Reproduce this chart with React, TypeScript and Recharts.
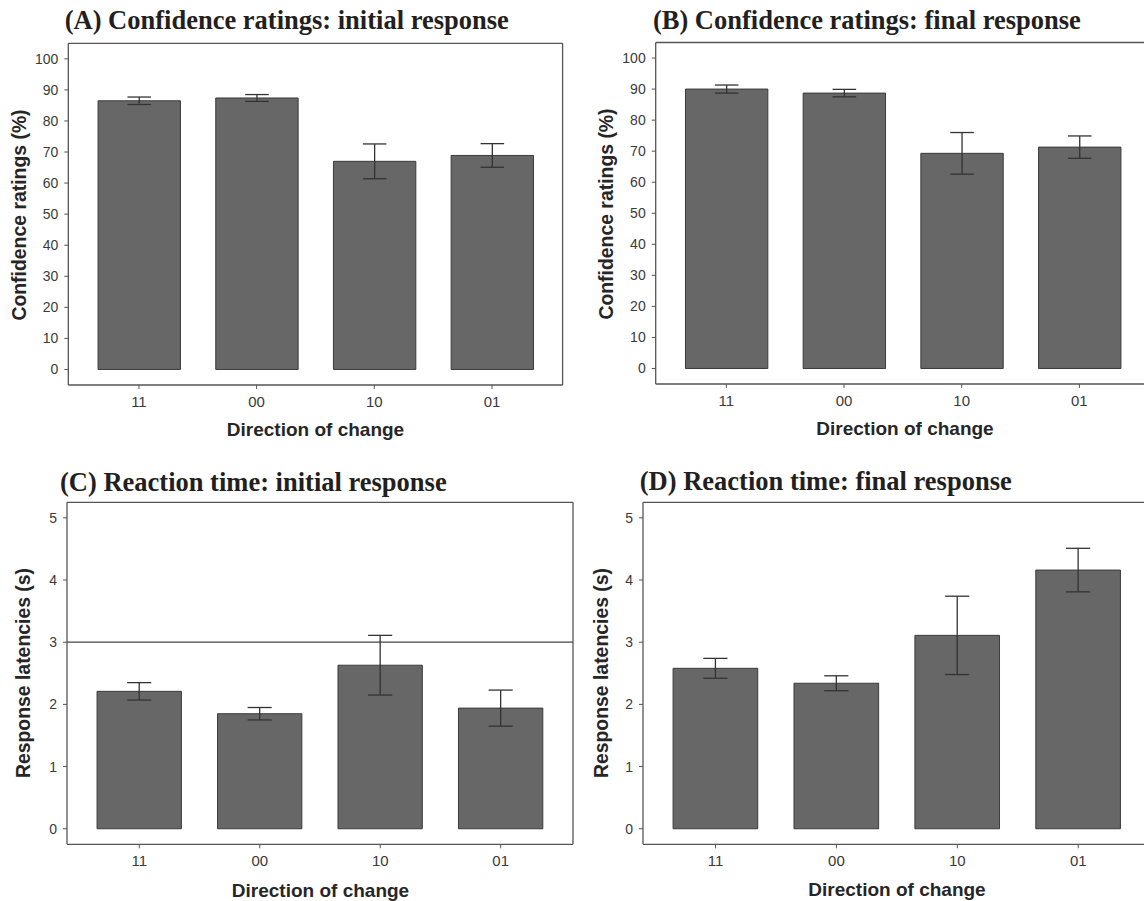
import React from 'react';
import { BarChart, Bar, XAxis, YAxis, ErrorBar, ReferenceLine } from 'recharts';

// Response categories (direction of change)
const directions = ['11', '00', '10', '01'];

// Confidence ratings (%) — mean and standard error
const confInitialMean = [86.5, 87.4, 67.0, 68.9];
const confInitialSe = [1.2, 1.1, 5.6, 3.8];
const confFinalMean = [90.0, 88.7, 69.3, 71.3];
const confFinalSe = [1.3, 1.2, 6.7, 3.6];

// Response latencies (s) — mean and standard error
const rtInitialMean = [2.21, 1.85, 2.63, 1.94];
const rtInitialSe = [0.14, 0.1, 0.48, 0.29];
const rtFinalMean = [2.58, 2.34, 3.11, 4.16];
const rtFinalSe = [0.16, 0.12, 0.63, 0.35];

const confTicks = [0, 10, 20, 30, 40, 50, 60, 70, 80, 90, 100];
const rtTicks = [0, 1, 2, 3, 4, 5];
const rtCutoff = 3;

const SANS = '"Liberation Sans", Arial, Helvetica, sans-serif';
const SERIF = '"Liberation Serif", "Times New Roman", Times, serif';
const FRAME = '#555555';

type Frame = { x0: number; x1: number; y0: number; y1: number };

type PanelProps = {
  left: number;
  top: number;
  frame: Frame;
  means: number[];
  ses: number[];
  domain: [number, number];
  ticks: number[];
  refY?: number;
};

function Panel({ left, top, frame, means, ses, domain, ticks, refY }: PanelProps) {
  const data = directions.map((dir, i) => ({ dir, mean: means[i], se: ses[i] }));
  const yAxisW = frame.x0 - left;
  const xAxisH = 30;
  const width = frame.x1 - left + 3;
  const height = frame.y1 - top + xAxisH;
  const plotW = frame.x1 - frame.x0;
  const step = plotW / 4.2; // categories sit 1 unit apart with 0.6 unit expansion each side
  const pad = step * 0.1;

  return (
    <div style={{ position: 'absolute', left, top, width, height }}>
      <BarChart
        width={width}
        height={height}
        data={data}
        margin={{ top: frame.y0 - top - 1, right: 2, bottom: 0, left: 0 }}
      >
        <XAxis
          dataKey="dir"
          type="category"
          interval={0}
          height={xAxisH}
          padding={{ left: pad, right: pad }}
          tickSize={4}
          tickMargin={7}
          axisLine={{ stroke: FRAME, strokeWidth: 1.3 }}
          tickLine={{ stroke: FRAME, strokeWidth: 1 }}
          tick={{ fill: '#3a3a3a', fontSize: 15, fontFamily: SANS }}
        />
        {/* top edge of the panel border */}
        <XAxis
          xAxisId="top"
          dataKey="dir"
          orientation="top"
          height={1}
          tick={false}
          tickLine={false}
          padding={{ left: pad, right: pad }}
          axisLine={{ stroke: FRAME, strokeWidth: 1.3 }}
        />
        <YAxis
          type="number"
          domain={domain}
          ticks={ticks}
          allowDataOverflow
          interval={0}
          width={yAxisW}
          tickSize={4}
          tickMargin={6}
          axisLine={{ stroke: FRAME, strokeWidth: 1.3 }}
          tickLine={{ stroke: FRAME, strokeWidth: 1 }}
          tick={{ fill: '#3a3a3a', fontSize: 14, fontFamily: SANS }}
        />
        {/* right edge of the panel border */}
        <YAxis
          yAxisId="right"
          orientation="right"
          type="number"
          domain={domain}
          ticks={ticks}
          allowDataOverflow
          width={1}
          tick={false}
          tickLine={false}
          axisLine={{ stroke: FRAME, strokeWidth: 1.3 }}
        />
        {refY !== undefined && (
          <ReferenceLine y={refY} stroke="#444444" strokeWidth={1.3} />
        )}
        <Bar
          dataKey="mean"
          barSize={step * 0.7}
          fill="#676767"
          stroke="#3a3a3a"
          strokeWidth={1}
          isAnimationActive={false}
        >
          <ErrorBar
            dataKey="se"
            width={step * 0.1}
            stroke="#333333"
            strokeWidth={1.3}
            isAnimationActive={false}
          />
        </Bar>
      </BarChart>
    </div>
  );
}

type Caption = { text: string; x: number; y: number };

const panelTitles: Caption[] = [
  { text: '(A) Confidence ratings: initial response', x: 64.7, y: 29 },
  { text: '(B) Confidence ratings: final response', x: 652.9, y: 28.5 },
  { text: '(C) Reaction time: initial response', x: 60, y: 490.5 },
  { text: '(D) Reaction time: final response', x: 639.8, y: 490 },
];

const xTitles: Caption[] = [
  { text: 'Direction of change', x: 315.5, y: 436 },
  { text: 'Direction of change', x: 905, y: 434.5 },
  { text: 'Direction of change', x: 320.5, y: 896.5 },
  { text: 'Direction of change', x: 897, y: 896 },
];

const yTitles: Caption[] = [
  { text: 'Confidence ratings (%)', x: 25.5, y: 215 },
  { text: 'Confidence ratings (%)', x: 612.5, y: 214 },
  { text: 'Response latencies (s)', x: 30, y: 673 },
  { text: 'Response latencies (s)', x: 608, y: 673 },
];

export default function App() {
  return (
    <div
      style={{
        position: 'absolute',
        left: 0,
        top: 0,
        width: 1144,
        height: 901,
        overflow: 'hidden',
        background: '#ffffff',
      }}
    >
      <Panel
        left={0}
        top={30}
        frame={{ x0: 68.3, x1: 562.6, y0: 43.3, y1: 385 }}
        means={confInitialMean}
        ses={confInitialSe}
        domain={[-5, 105]}
        ticks={confTicks}
      />
      <Panel
        left={575}
        top={30}
        frame={{ x0: 655.7, x1: 1150, y0: 42.5, y1: 384 }}
        means={confFinalMean}
        ses={confFinalSe}
        domain={[-5, 105]}
        ticks={confTicks}
      />
      <Panel
        left={0}
        top={492}
        frame={{ x0: 67, x1: 573, y0: 502.3, y1: 844.3 }}
        means={rtInitialMean}
        ses={rtInitialSe}
        domain={[-0.25, 5.25]}
        ticks={rtTicks}
        refY={rtCutoff}
      />
      <Panel
        left={577}
        top={492}
        frame={{ x0: 643, x1: 1150.8, y0: 502.3, y1: 844.3 }}
        means={rtFinalMean}
        ses={rtFinalSe}
        domain={[-0.25, 5.25]}
        ticks={rtTicks}
      />
      <svg
        width={1144}
        height={901}
        style={{ position: 'absolute', left: 0, top: 0, pointerEvents: 'none' }}
      >
        {panelTitles.map((t) => (
          <text
            key={t.text}
            x={t.x}
            y={t.y}
            fontFamily={SERIF}
            fontWeight="bold"
            fontSize={26.5}
            fill="#231f20"
          >
            {t.text}
          </text>
        ))}
        {xTitles.map((t, i) => (
          <text
            key={`x${i}`}
            x={t.x}
            y={t.y}
            textAnchor="middle"
            fontFamily={SANS}
            fontWeight="bold"
            fontSize={19}
            fill="#262626"
          >
            {t.text}
          </text>
        ))}
        {yTitles.map((t, i) => (
          <text
            key={`y${i}`}
            x={t.x}
            y={t.y}
            textAnchor="middle"
            transform={`rotate(-90 ${t.x} ${t.y})`}
            fontFamily={SANS}
            fontWeight="bold"
            fontSize={19.4}
            fill="#262626"
          >
            {t.text}
          </text>
        ))}
      </svg>
    </div>
  );
}
